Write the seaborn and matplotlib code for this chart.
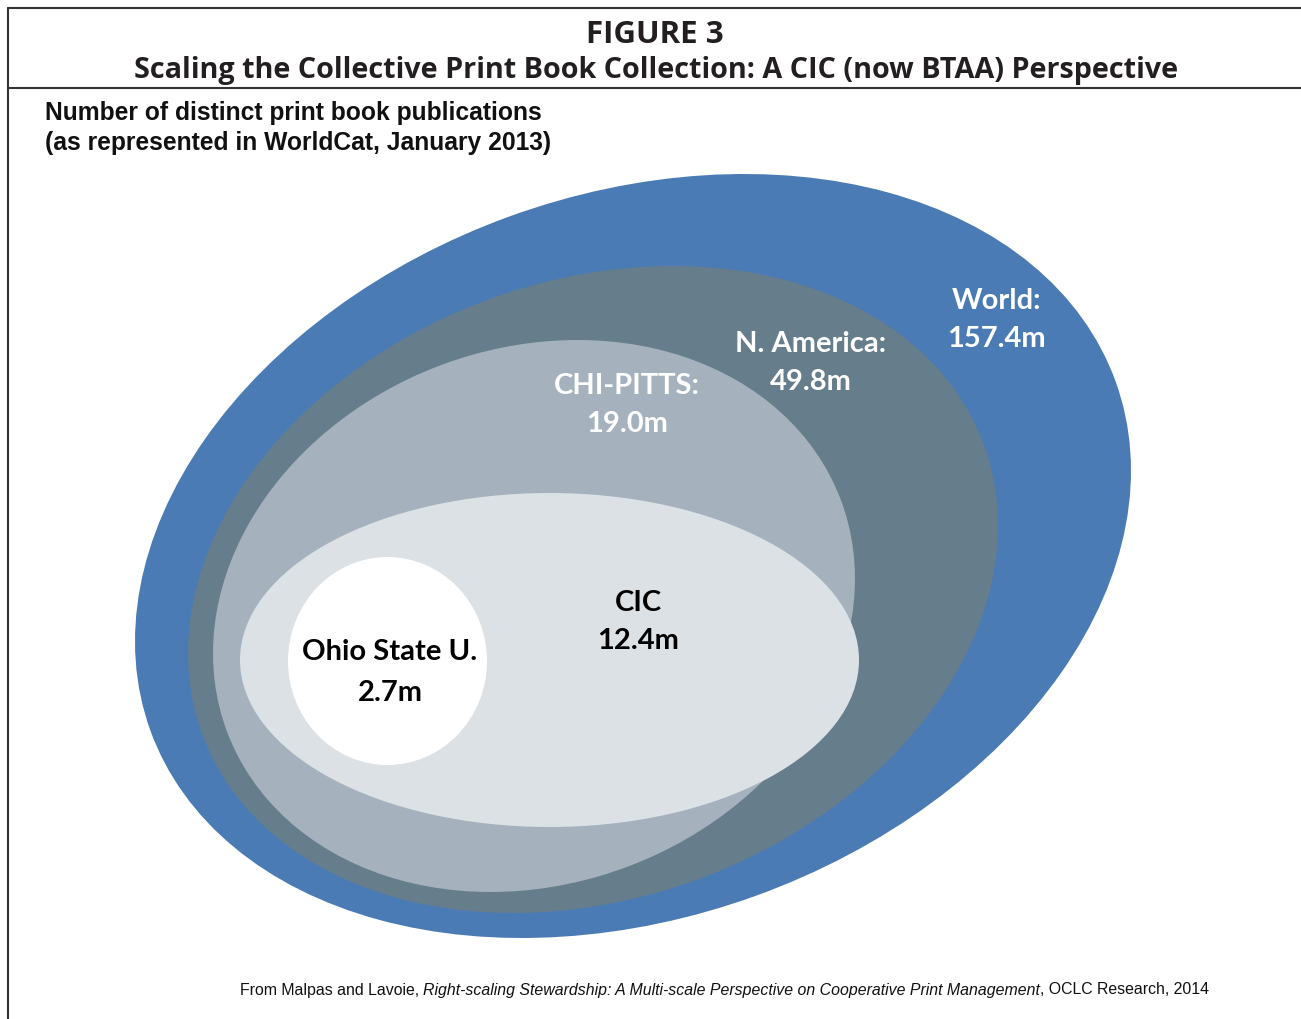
import numpy as np
import matplotlib
matplotlib.use("Agg")
import matplotlib.pyplot as plt
from matplotlib.patches import Ellipse
import seaborn as sns

sns.set_theme(style="white")

# collections, outermost first
names = ["World:", "N. America:", "CHI-PITTS:", "CIC", "Ohio State U."]
values = ["157.4m", "49.8m", "19.0m", "12.4m", "2.7m"]
colors = ["#4A7BB5", "#667D8C", "#A5B2BD", "#DCE1E5", "#FFFFFF"]
text_colors = ["white", "white", "white", "black", "black"]

# shape of each ellipse: center, half width/height of bounding box, skew term
centers = [(633, 556), (593, 589.5), (534, 616), (549.5, 660), (387.5, 661)]
half_w = [498, 405, 321, 309.5, 99.5]
half_h = [382, 323.5, 276, 167, 104]
skew = [42500, 25800, 12000, 0, 0]
label_pos = [(996, 301), (811, 344), (627, 386), (638, 603), (390, 652)]
line_gap = [38, 38, 38, 38, 41]


def ellipse_from_box(H, V, K):
    # semi axes and tilt of an ellipse with given bounding box and skew
    s = H**2 + V**2
    d = np.hypot(H**2 - V**2, 2 * K)
    theta = 0.5 * np.degrees(np.arctan2(2 * K, H**2 - V**2))
    a = np.sqrt((s + d) / 2)
    b = np.sqrt((s - d) / 2)
    return a, b, theta


fig = plt.figure(figsize=(13.01, 10.19), dpi=100)
ax = fig.add_axes([0, 0, 1, 1])
ax.set_xlim(0, 1301)
ax.set_ylim(1019, 0)
ax.axis("off")

for c, H, V, K, col in zip(centers, half_w, half_h, skew, colors):
    a, b, th = ellipse_from_box(H, V, K)
    ax.add_patch(Ellipse(c, 2 * a, 2 * b, angle=-th, facecolor=col, edgecolor="none"))

for (x, y), n, v, tc, g in zip(label_pos, names, values, text_colors, line_gap):
    ax.text(x, y, n, ha="center", va="center", color=tc, fontsize=21,
            fontweight="bold", family="Lato")
    ax.text(x, y + g, v, ha="center", va="center", color=tc, fontsize=21,
            fontweight="bold", family="Lato")

# frame
ax.plot([8, 1301], [8, 8], color="#333333", lw=1.5)
ax.plot([8, 1301], [88, 88], color="#333333", lw=1.5)
ax.plot([8, 8], [8, 1019], color="#333333", lw=1.5)

ax.text(655, 35, "FIGURE 3", ha="center", va="center", fontsize=22.5,
        fontweight="bold", family="Open Sans", color="#231F20")
ax.text(656, 70, "Scaling the Collective Print Book Collection: A CIC (now BTAA) Perspective",
        ha="center", va="center", fontsize=20.7, fontweight="bold", family="Open Sans",
        color="#231F20")

ax.text(45, 113, "Number of distinct print book publications", ha="left", va="center",
        fontsize=17.7, fontweight="bold", family="Liberation Sans", color="#111111")
ax.text(45, 143, "(as represented in WorldCat, January 2013)", ha="left", va="center",
        fontsize=17.7, fontweight="bold", family="Liberation Sans", color="#111111")

# footer with italic title in the middle
parts = [("From Malpas and Lavoie, ", "normal"),
         ("Right-scaling Stewardship: A Multi-scale Perspective on Cooperative Print Management", "italic"),
         (", OCLC Research, 2014", "normal")]
fig.canvas.draw()
renderer = fig.canvas.get_renderer()
x = 240
for txt, style in parts:
    t = fig.text(x / 1301, 1 - 990 / 1019, txt, ha="left", va="center", fontsize=11.45,
                 style=style, family="Liberation Sans", color="#111111")
    bb = t.get_window_extent(renderer)
    x = bb.x1

fig.savefig("out.png", dpi=100)
